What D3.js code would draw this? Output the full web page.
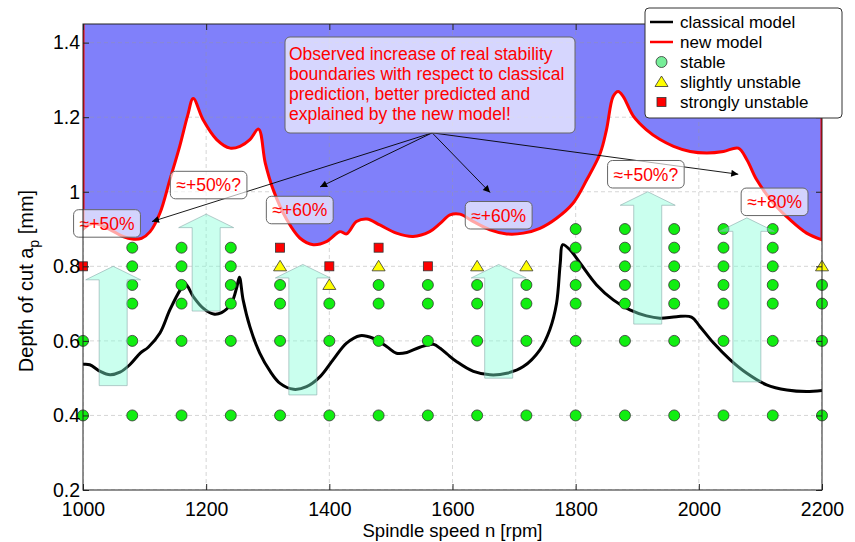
<!DOCTYPE html>
<html>
<head>
<meta charset="utf-8">
<script src="https://cdn.jsdelivr.net/npm/d3@7"></script>
<style>
  body { margin: 0; background: #fff; }
  text { font-family: "Liberation Sans", Arial, sans-serif; }
</style>
</head>
<body>
<div id="my_dataviz"></div>
<script>
// axis ticks
var speedTicks = [1000, 1200, 1400, 1600, 1800, 2000, 2200];
var depthTicks = [0.2, 0.4, 0.6, 0.8, 1, 1.2, 1.4];

// classical model (black line)
var classicalSpeed = [1000, 1011, 1028, 1044, 1060, 1076, 1093, 1106, 1125, 1141, 1158, 1166, 1179, 1195, 1212, 1225, 1241, 1250, 1254, 1260,
    1271, 1287, 1304, 1320, 1342, 1363, 1385, 1406, 1428, 1450, 1471, 1493, 1509, 1526, 1547, 1569, 1580, 1591, 1607, 1634,
    1661, 1688, 1715, 1742, 1758, 1769, 1775, 1779, 1791, 1807, 1834, 1861, 1888, 1915, 1937, 1964, 1988, 2002, 2024, 2051,
    2078, 2110, 2143, 2175, 2200];
var classicalDepth = [0.537, 0.536, 0.518, 0.509, 0.516, 0.536, 0.567, 0.583, 0.621, 0.683, 0.737, 0.753, 0.719, 0.688, 0.672, 0.676, 0.701, 0.746, 0.771, 0.710,
    0.638, 0.567, 0.518, 0.486, 0.470, 0.477, 0.504, 0.549, 0.594, 0.614, 0.607, 0.585, 0.567, 0.569, 0.583, 0.591, 0.580, 0.565, 0.544, 0.518,
    0.509, 0.513, 0.531, 0.576, 0.630, 0.701, 0.809, 0.858, 0.844, 0.809, 0.750, 0.710, 0.683, 0.667, 0.661, 0.665, 0.664, 0.638, 0.594, 0.549,
    0.513, 0.482, 0.468, 0.464, 0.467];

// new model (red line, unstable region above it)
var newSpeed = [1000, 1015, 1030, 1050, 1065, 1080, 1095, 1109, 1125, 1141, 1157, 1170, 1179, 1195, 1217, 1239, 1255, 1271, 1285, 1296,
    1309, 1331, 1352, 1374, 1396, 1417, 1428, 1444, 1461, 1482, 1509, 1536, 1563, 1580, 1596, 1612, 1634, 1661, 1688, 1715,
    1742, 1769, 1796, 1818, 1840, 1850, 1861, 1869, 1877, 1894, 1915, 1937, 1959, 1986, 2013, 2040, 2064, 2078, 2094, 2121,
    2148, 2175, 2200];
var newDepth = [0.900, 0.915, 0.910, 0.893, 0.880, 0.873, 0.875, 0.893, 0.943, 1.032, 1.122, 1.205, 1.250, 1.193, 1.140, 1.117, 1.122, 1.140, 1.168, 1.077,
    1.005, 0.925, 0.876, 0.858, 0.867, 0.893, 0.887, 0.920, 0.927, 0.911, 0.889, 0.880, 0.893, 0.915, 0.938, 0.940, 0.920, 0.898, 0.887, 0.889,
    0.902, 0.929, 0.970, 1.032, 1.104, 1.166, 1.256, 1.269, 1.256, 1.202, 1.166, 1.140, 1.122, 1.108, 1.104, 1.108, 1.117, 1.086, 1.032, 0.970,
    0.925, 0.889, 0.871];

// cutting tests, one entry per spindle speed
var testSpeed = [1000, 1080, 1160, 1240, 1320, 1400, 1480, 1560, 1640, 1720, 1800, 1880, 1960, 2040, 2120, 2200];
var stableDepths = [
    [0.4, 0.6],
    [0.4, 0.6, 0.7, 0.75, 0.8, 0.85],
    [0.4, 0.6, 0.7, 0.75, 0.8, 0.85],
    [0.4, 0.6, 0.7, 0.75, 0.8, 0.85],
    [0.4, 0.6, 0.7, 0.75],
    [0.4, 0.6, 0.7],
    [0.4, 0.6, 0.7, 0.75],
    [0.4, 0.6, 0.7, 0.75],
    [0.4, 0.6, 0.7, 0.75],
    [0.4, 0.6, 0.7, 0.75],
    [0.4, 0.6, 0.7, 0.75, 0.8, 0.85, 0.9],
    [0.4, 0.6, 0.7, 0.75, 0.8, 0.85, 0.9],
    [0.4, 0.6, 0.7, 0.75, 0.8, 0.85, 0.9],
    [0.4, 0.6, 0.7, 0.75, 0.8, 0.85, 0.9],
    [0.4, 0.6, 0.7, 0.75, 0.8, 0.85, 0.9],
    [0.4, 0.6, 0.7, 0.75]
];
var slightDepths = [[], [], [], [], [0.8], [0.75], [0.8], [], [0.8], [0.8], [], [], [], [], [], [0.8]];
var strongDepths = [[0.8], [], [], [], [0.85], [0.8], [0.85], [0.8], [], [], [], [], [], [], [], []];

// big cyan arrows: from classical limit up to observed limit
var gainSpeed = [1049, 1200, 1357, 1675, 1917, 2078];
var gainFrom = [0.48, 0.68, 0.455, 0.50, 0.645, 0.49];
var gainTo = [0.80, 0.94, 0.805, 0.805, 1.0, 0.93];

// percentage labels
var labelText = ["≈+50%", "≈+50%?", "≈+60%", "≈+60%", "≈+50%?", "≈+80%"];
var labelSpeed = [1039, 1204, 1352, 1675, 1914, 2123];
var labelDepth = [0.915, 1.018, 0.951, 0.937, 1.047, 0.973];

// callout arrows from the note box
var calloutFrom = [1567, 1.158];
var calloutSpeed = [1112, 1385, 1661, 2064];
var calloutDepth = [0.92, 1.013, 0.998, 1.047];

var noteLines = ["Observed increase of real stability",
    "boundaries with respect to classical",
    "prediction, better predicted and",
    "explained by the new model!"];

var legendNames = ["classical model", "new model", "stable", "slightly unstable", "strongly unstable"];

var width = 855, height = 542;
var plot = {left: 83, right: 822, top: 24, bottom: 490};

var svg = d3.select("#my_dataviz")
  .append("svg")
    .attr("width", width)
    .attr("height", height);

var x = d3.scaleLinear().domain([1000, 2200]).range([plot.left, plot.right]);
var y = d3.scaleLinear().domain([0.2, 1.45]).range([plot.bottom, plot.top]);

svg.append("clipPath").attr("id", "clip")
  .append("rect")
    .attr("x", plot.left).attr("y", plot.top)
    .attr("width", plot.right - plot.left).attr("height", plot.bottom - plot.top);

var inner = svg.append("g").attr("clip-path", "url(#clip)");

var newPts = newSpeed.map(function(s, i) { return [s, newDepth[i]]; });
var classicalPts = classicalSpeed.map(function(s, i) { return [s, classicalDepth[i]]; });
var smooth = d3.curveCatmullRom.alpha(0.5);

// unstable region of the new model
inner.append("path")
    .datum(newPts)
    .attr("fill", "#8080fa")
    .attr("d", d3.area().curve(smooth)
        .x(function(d) { return x(d[0]); })
        .y0(y(1.45))
        .y1(function(d) { return y(d[1]); }));

// grid
inner.append("g").selectAll("line")
    .data(speedTicks).enter().append("line")
    .attr("x1", function(d) { return x(d); }).attr("x2", function(d) { return x(d); })
    .attr("y1", plot.top).attr("y2", plot.bottom)
    .attr("stroke", "#999").attr("stroke-opacity", 0.4)
    .attr("stroke-dasharray", "4,3");
inner.append("g").selectAll("line")
    .data(depthTicks).enter().append("line")
    .attr("y1", function(d) { return y(d); }).attr("y2", function(d) { return y(d); })
    .attr("x1", plot.left).attr("x2", plot.right)
    .attr("stroke", "#999").attr("stroke-opacity", 0.4)
    .attr("stroke-dasharray", "4,3");

var line = d3.line().curve(smooth)
    .x(function(d) { return x(d[0]); })
    .y(function(d) { return y(d[1]); });

// red boundary, closed up the left and right edges
inner.append("path")
    .attr("fill", "none")
    .attr("stroke", "#ff0000")
    .attr("stroke-width", 3)
    .attr("d", "M" + x(1000) + "," + y(1.45) + "L" + line(newPts).slice(1) + "L" + x(2200) + "," + y(1.45));

inner.append("path")
    .datum(classicalPts)
    .attr("fill", "none")
    .attr("stroke", "#000")
    .attr("stroke-width", 3)
    .attr("d", line);

// test points
var stable = [], slight = [], strong = [];
testSpeed.forEach(function(s, i) {
    stableDepths[i].forEach(function(d) { stable.push([s, d]); });
    slightDepths[i].forEach(function(d) { slight.push([s, d]); });
    strongDepths[i].forEach(function(d) { strong.push([s, d]); });
});

var marks = svg.append("g");
marks.selectAll(".stable")
    .data(stable).enter().append("circle")
    .attr("cx", function(d) { return x(d[0]); })
    .attr("cy", function(d) { return y(d[1]); })
    .attr("r", 5.5)
    .attr("fill", "#11ee11").attr("stroke", "#333").attr("stroke-width", 0.8);
marks.selectAll(".slight")
    .data(slight).enter().append("path")
    .attr("d", "M0,-6L6.5,4.5L-6.5,4.5Z")
    .attr("transform", function(d) { return "translate(" + x(d[0]) + "," + y(d[1]) + ")"; })
    .attr("fill", "#ffff00").attr("stroke", "#333").attr("stroke-width", 0.8);
marks.selectAll(".strong")
    .data(strong).enter().append("rect")
    .attr("x", function(d) { return x(d[0]) - 4.5; })
    .attr("y", function(d) { return y(d[1]) - 4.5; })
    .attr("width", 9).attr("height", 9)
    .attr("fill", "#ff0000").attr("stroke", "#333").attr("stroke-width", 0.8);

// block arrows
var shaftHalf = 14, headHalf = 27.5, headLen = 13.5;
svg.append("g").selectAll("path")
    .data(gainSpeed).enter().append("path")
    .attr("d", function(s, i) {
        var cx = x(s), yb = y(gainFrom[i]), yt = y(gainTo[i]), yh = yt + headLen;
        return "M" + (cx - shaftHalf) + "," + yb +
            "L" + (cx - shaftHalf) + "," + yh +
            "L" + (cx - headHalf) + "," + yh +
            "L" + cx + "," + yt +
            "L" + (cx + headHalf) + "," + yh +
            "L" + (cx + shaftHalf) + "," + yh +
            "L" + (cx + shaftHalf) + "," + yb + "Z";
    })
    .attr("fill", "#80ffd6").attr("fill-opacity", 0.42)
    .attr("stroke", "#8aa").attr("stroke-opacity", 0.6).attr("stroke-width", 1);

// callout arrows
svg.append("defs").append("marker")
    .attr("id", "head")
    .attr("viewBox", "0 0 10 10")
    .attr("refX", 10).attr("refY", 5)
    .attr("markerWidth", 11).attr("markerHeight", 7)
    .attr("markerUnits", "userSpaceOnUse")
    .attr("orient", "auto")
  .append("path").attr("d", "M0,0L10,5L0,10Z").attr("fill", "#000");

svg.append("g").selectAll("line")
    .data(calloutSpeed).enter().append("line")
    .attr("x1", x(calloutFrom[0])).attr("y1", y(calloutFrom[1]))
    .attr("x2", function(d) { return x(d); })
    .attr("y2", function(d, i) { return y(calloutDepth[i]); })
    .attr("stroke", "#000").attr("stroke-width", 0.9)
    .attr("marker-end", "url(#head)");

// percentage labels
var labels = svg.append("g").selectAll("g")
    .data(labelText).enter().append("g")
    .attr("transform", function(d, i) { return "translate(" + x(labelSpeed[i]) + "," + y(labelDepth[i]) + ")"; });
labels.append("rect");
labels.append("text")
    .attr("text-anchor", "middle")
    .attr("dy", "0.36em")
    .attr("fill", "#ff0000")
    .style("font-size", "17.5px")
    .text(function(d) { return d; });
labels.each(function() {
    var g = d3.select(this);
    var w = g.select("text").node().getComputedTextLength() + 12;
    g.select("rect")
        .attr("x", -w / 2).attr("y", -13.75)
        .attr("width", w).attr("height", 27.5)
        .attr("rx", 5)
        .attr("fill", "#fff").attr("fill-opacity", 0.65)
        .attr("stroke", "#666").attr("stroke-width", 1);
});

// note box
var note = svg.append("g").attr("transform", "translate(285,37)");
note.append("rect")
    .attr("width", 290).attr("height", 96).attr("rx", 5)
    .attr("fill", "#fff").attr("fill-opacity", 0.68)
    .attr("stroke", "#666").attr("stroke-width", 1);
note.selectAll("text")
    .data(noteLines).enter().append("text")
    .attr("x", 4)
    .attr("y", function(d, i) { return 23 + i * 20; })
    .attr("fill", "#ff0000")
    .style("font-size", "17.5px")
    .text(function(d) { return d; });

// frame and axes with inward ticks
svg.append("rect")
    .attr("x", plot.left).attr("y", plot.top)
    .attr("width", plot.right - plot.left).attr("height", plot.bottom - plot.top)
    .attr("fill", "none").attr("stroke", "#222").attr("stroke-width", 1);

svg.append("g")
    .attr("transform", "translate(0," + plot.bottom + ")")
    .call(d3.axisBottom(x).tickValues(speedTicks).tickSize(-6).tickPadding(12).tickFormat(d3.format("d")));
svg.append("g")
    .attr("transform", "translate(0," + plot.top + ")")
    .call(d3.axisTop(x).tickValues(speedTicks).tickSize(-6).tickFormat(""));
svg.append("g")
    .attr("transform", "translate(" + plot.left + ",0)")
    .call(d3.axisLeft(y).tickValues(depthTicks).tickSize(-6).tickPadding(3).tickFormat(d3.format("")));
svg.append("g")
    .attr("transform", "translate(" + plot.right + ",0)")
    .call(d3.axisRight(y).tickValues(depthTicks).tickSize(-6).tickFormat(""));

svg.selectAll(".domain").remove();
svg.selectAll(".tick line").attr("stroke", "#222");
svg.selectAll(".tick text")
    .attr("fill", "#000")
    .style("font-size", "19.5px")
    .style("font-family", "'Liberation Sans', Arial, sans-serif");

svg.append("text")
    .attr("x", (plot.left + plot.right) / 2)
    .attr("y", 536.5)
    .attr("text-anchor", "middle")
    .style("font-size", "18.5px")
    .text("Spindle speed n [rpm]");

var ylab = svg.append("text")
    .attr("transform", "translate(33," + ((plot.top + plot.bottom) / 2 + 24) + ")rotate(-90)")
    .attr("text-anchor", "middle")
    .style("font-size", "20px");
ylab.append("tspan").text("Depth of cut a");
ylab.append("tspan").attr("dy", 6).style("font-size", "14px").text("p");
ylab.append("tspan").attr("dy", -6).text(" [mm]");

// legend
var legend = svg.append("g").attr("transform", "translate(645,8)");
legend.append("rect")
    .attr("width", 197).attr("height", 110).attr("rx", 4)
    .attr("fill", "#fff").attr("stroke", "#333").attr("stroke-width", 1);
var rows = legend.selectAll(".row")
    .data(legendNames).enter().append("g")
    .attr("transform", function(d, i) { return "translate(0," + (14 + i * 20) + ")"; });
rows.append("text")
    .attr("x", 35).attr("dy", "0.35em")
    .style("font-size", "17px")
    .text(function(d) { return d; });
rows.filter(function(d, i) { return i < 2; }).append("line")
    .attr("x1", 5).attr("x2", 28)
    .attr("stroke", function(d, i) { return i == 0 ? "#000" : "#ff0000"; })
    .attr("stroke-width", 2.5);
rows.filter(function(d, i) { return i == 2; }).append("circle")
    .attr("cx", 16.5).attr("r", 5.5)
    .attr("fill", "#77ee99").attr("stroke", "#333").attr("stroke-width", 0.8);
rows.filter(function(d, i) { return i == 3; }).append("path")
    .attr("d", "M16.5,-6L23,4.5L10,4.5Z")
    .attr("fill", "#ffff00").attr("stroke", "#333").attr("stroke-width", 0.8);
rows.filter(function(d, i) { return i == 4; }).append("rect")
    .attr("x", 12).attr("y", -4.5).attr("width", 9).attr("height", 9)
    .attr("fill", "#ff0000").attr("stroke", "#333").attr("stroke-width", 0.8);
</script>
</body>
</html>
